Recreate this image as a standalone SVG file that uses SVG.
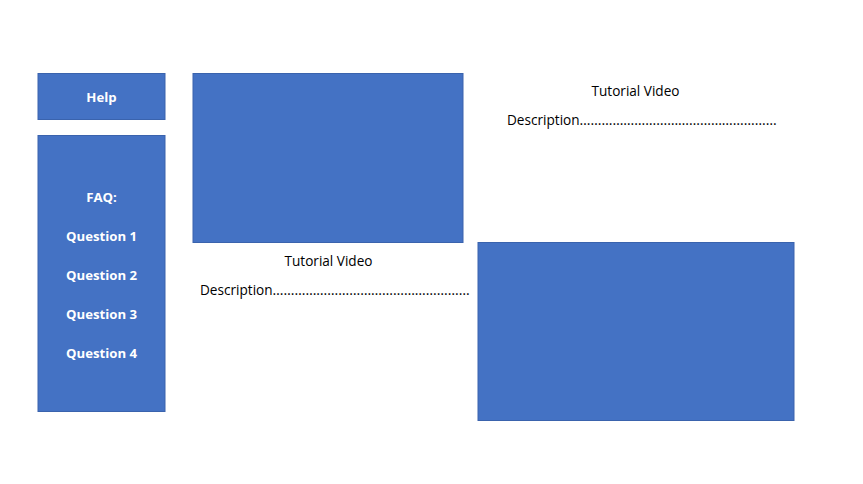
<svg xmlns="http://www.w3.org/2000/svg" width="863" height="484" viewBox="0 0 863 484">
<style>
.box{fill:#4472C4;stroke:#3A63AD;stroke-width:1}
.w{font-family:"Open Sans","Noto Sans","Liberation Sans",sans-serif;font-size:13.2px;font-weight:bold;fill:#FFFFFF;text-anchor:middle}
.t{font-family:"Open Sans","Noto Sans","Liberation Sans",sans-serif;font-size:13.6px;fill:#000000}
.c{text-anchor:middle}
</style>
<rect width="863" height="484" fill="#FFFFFF"/>
<g id="help">
<rect class="box" x="38" y="73.5" width="127" height="46"/>
<text class="w" x="101.5" y="101.5">Help</text>
</g>
<g id="faq">
<rect class="box" x="38" y="135.5" width="127" height="276"/>
<text class="w" x="101.5" y="201.5">FAQ:</text>
<text class="w" x="101.5" y="240.5">Question 1</text>
<text class="w" x="101.5" y="279.5">Question 2</text>
<text class="w" x="101.5" y="318.5">Question 3</text>
<text class="w" x="101.5" y="357.5">Question 4</text>
</g>
<g id="video1">
<rect class="box" x="193" y="73.5" width="270" height="169"/>
</g>
<g id="video1-text">
<text class="t c" x="328.5" y="265.5">Tutorial Video</text>
<text class="t" x="200" y="294.5">Description<tspan textLength="197" lengthAdjust="spacingAndGlyphs">………………………………………………</tspan></text>
</g>
<g id="video2">
<rect class="box" x="478" y="242.5" width="316" height="178"/>
</g>
<g id="video2-text">
<text class="t c" x="635.5" y="95.5">Tutorial Video</text>
<text class="t" x="507" y="124.5">Description<tspan textLength="197" lengthAdjust="spacingAndGlyphs">………………………………………………</tspan></text>
</g>
<g id="connectors"></g>
</svg>
